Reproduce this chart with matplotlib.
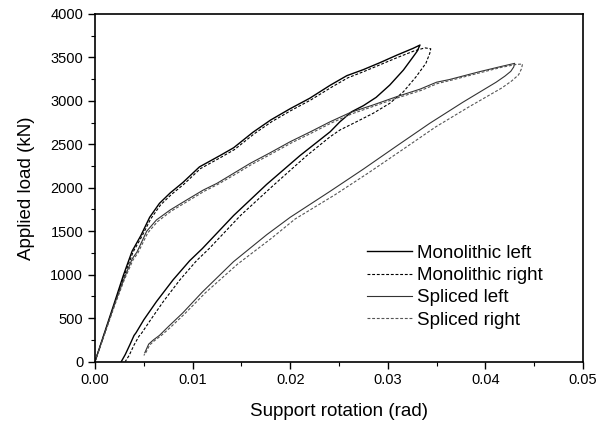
import matplotlib
matplotlib.use("Agg")
import matplotlib.pyplot as plt
from matplotlib.ticker import MultipleLocator

plt.rcParams['font.family'] = ['Liberation Sans', 'DejaVu Sans']

# Monolithic left (solid): loading then unloading
mono_left_rot = [0, 0.0010, 0.0020, 0.0029, 0.0038, 0.0043, 0.0047, 0.0056, 0.0066, 0.0077,
                 0.0090, 0.0107, 0.0128, 0.0142, 0.0162, 0.0180, 0.0200, 0.0220, 0.0241,
                 0.0258, 0.0275, 0.0292, 0.0309, 0.0326, 0.0333,
                 0.0330, 0.0326, 0.0316, 0.0302, 0.0288, 0.0275, 0.0263, 0.0251, 0.0241,
                 0.0210, 0.0176, 0.0142, 0.0110, 0.0097, 0.0080, 0.0063, 0.0050, 0.0042,
                 0.0040, 0.0036, 0.0031, 0.0027]
mono_left_load = [0, 340, 680, 990, 1270, 1370, 1450, 1660, 1820, 1940,
                  2060, 2240, 2370, 2460, 2640, 2780, 2910, 3030, 3180,
                  3290, 3360, 3440, 3525, 3605, 3643,
                  3570, 3508, 3355, 3182, 3040, 2945, 2875, 2760, 2645,
                  2370, 2040, 1680, 1300, 1160, 940, 690, 480, 330,
                  300, 200, 80, 0]

# Monolithic right (dashed)
mono_right_rot = [0, 0.0010, 0.0020, 0.0030, 0.0039, 0.0044, 0.0048, 0.0057, 0.0067, 0.0078,
                  0.0091, 0.0108, 0.0129, 0.0143, 0.0163, 0.0181, 0.0201, 0.0221, 0.0242,
                  0.0259, 0.0276, 0.0293, 0.0310, 0.0327, 0.0338, 0.0344,
                  0.0343, 0.0339, 0.0329, 0.0316, 0.0302, 0.0285, 0.0268, 0.0251, 0.0241,
                  0.0217, 0.0183, 0.0149, 0.0117, 0.0104, 0.0087, 0.0070, 0.0057, 0.0048,
                  0.0045, 0.0040, 0.0035, 0.0031]
mono_right_load = [0, 330, 660, 990, 1260, 1360, 1440, 1640, 1800, 1920,
                   2040, 2220, 2350, 2440, 2620, 2760, 2890, 3010, 3155,
                   3265, 3340, 3420, 3500, 3575, 3610, 3600,
                   3547, 3432, 3278, 3105, 2972, 2857, 2760, 2665, 2588,
                   2370, 2030, 1680, 1300, 1160, 940, 690, 480, 330,
                   290, 190, 70, 0]

# Spliced left (solid)
spl_left_rot = [0, 0.0010, 0.0020, 0.0030, 0.0038, 0.0043, 0.0053, 0.0063, 0.0077, 0.0094,
                0.0111, 0.0125, 0.0142, 0.0159, 0.0179, 0.0200, 0.0220, 0.0241, 0.0262,
                0.0285, 0.0309, 0.0333, 0.0350, 0.0363, 0.0394, 0.0415, 0.0430,
                0.0429, 0.0426, 0.0420, 0.0411, 0.0377, 0.0343, 0.0309, 0.0275, 0.0241,
                0.0200, 0.0176, 0.0142, 0.0110, 0.0090, 0.0075, 0.0066, 0.0060, 0.0055,
                0.0051]
spl_left_load = [0, 330, 660, 960, 1180, 1260, 1500, 1630, 1744, 1860,
                 1974, 2051, 2166, 2281, 2400, 2530, 2640, 2760, 2868,
                 2953, 3048, 3135, 3215, 3245, 3336, 3393, 3432,
                 3390, 3340, 3285, 3215, 2985, 2742, 2480, 2215, 1960,
                 1660, 1460, 1150, 800, 560, 400, 300, 250, 200,
                 100]

# Spliced right (dashed)
spl_right_rot = [0, 0.0010, 0.0020, 0.0030, 0.0039, 0.0044, 0.0054, 0.0064, 0.0078, 0.0095,
                 0.0112, 0.0126, 0.0143, 0.0160, 0.0180, 0.0201, 0.0221, 0.0242, 0.0263,
                 0.0286, 0.0310, 0.0334, 0.0351, 0.0364, 0.0395, 0.0416, 0.0432, 0.0438,
                 0.0437, 0.0434, 0.0427, 0.0417, 0.0383, 0.0349, 0.0314, 0.0280, 0.0246,
                 0.0205, 0.0181, 0.0146, 0.0113, 0.0092, 0.0077, 0.0068, 0.0061, 0.0056,
                 0.0052, 0.0050]
spl_right_load = [0, 320, 640, 940, 1170, 1250, 1480, 1610, 1730, 1845,
                  1960, 2040, 2150, 2265, 2385, 2515, 2625, 2745, 2850,
                  2940, 3035, 3120, 3200, 3235, 3325, 3385, 3420, 3424,
                  3370, 3300, 3230, 3150, 2930, 2700, 2430, 2170, 1920,
                  1640, 1420, 1120, 790, 550, 390, 300, 240, 190,
                  100, 70]

x_ticks = [0.00, 0.01, 0.02, 0.03, 0.04, 0.05]
x_tick_labels = ["0.00", "0.01", "0.02", "0.03", "0.04", "0.05"]
y_ticks = [0, 500, 1000, 1500, 2000, 2500, 3000, 3500, 4000]

fig = plt.figure(figsize=(6.09, 4.26), dpi=100)
ax = fig.add_axes([95/609, 1 - 361.5/426, (583 - 95)/609, (361.5 - 14)/426])

dash = (0, (2.6, 1.6))
ax.plot(mono_left_rot, mono_left_load, color='black', lw=1.0, label='Monolithic left')
ax.plot(mono_right_rot, mono_right_load, color='black', lw=0.8, linestyle=dash, label='Monolithic right')
ax.plot(spl_left_rot, spl_left_load, color='#333333', lw=0.8, label='Spliced left')
ax.plot(spl_right_rot, spl_right_load, color='#555555', lw=0.8, linestyle=dash, label='Spliced right')

ax.set_xlim(0, 0.05)
ax.set_ylim(0, 4000)
ax.set_xticks(x_ticks)
ax.set_xticklabels(x_tick_labels)
ax.set_yticks(y_ticks)
ax.xaxis.set_minor_locator(MultipleLocator(0.005))
ax.yaxis.set_minor_locator(MultipleLocator(250))
ax.tick_params(which='major', direction='out', length=5, width=1.0, labelsize=10.5,
               top=False, right=False)
ax.tick_params(which='minor', direction='out', length=3, width=0.8, top=False, right=False)
for s in ax.spines.values():
    s.set_linewidth(1.2)

ax.set_xlabel('Support rotation (rad)', fontsize=13.5, labelpad=11)
ax.set_ylabel('Applied load (kN)', fontsize=13.5, labelpad=11)

leg = ax.legend(loc='lower left', bbox_to_anchor=(0.530, 0.057), frameon=False,
                fontsize=13.5, handlelength=2.4, handletextpad=0.3, labelspacing=0.27,
                borderpad=0.2)

fig.savefig('out.png', dpi=100)
